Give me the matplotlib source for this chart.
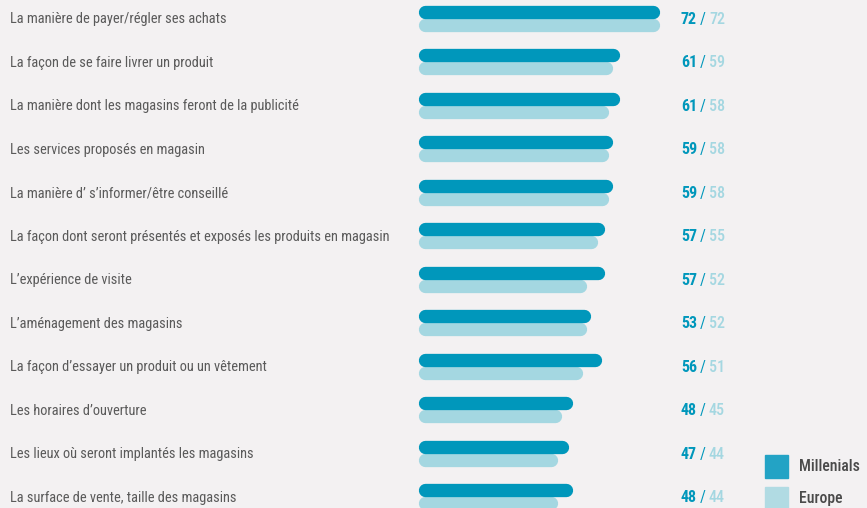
import matplotlib
matplotlib.use("Agg")
import matplotlib.pyplot as plt
from matplotlib import font_manager
from matplotlib.patches import Rectangle

labels = [
    "La manière de payer/régler ses achats",
    "La façon de se faire livrer un produit",
    "La manière dont les magasins feront de la publicité",
    "Les services proposés en magasin",
    "La manière d\u2019 s\u2019informer/être conseillé",
    "La façon dont seront présentés et exposés les produits en magasin",
    "L\u2019expérience de visite",
    "L\u2019aménagement des magasins",
    "La façon d\u2019essayer un produit ou un vêtement",
    "Les horaires d\u2019ouverture",
    "Les lieux où seront implantés les magasins",
    "La surface de vente, taille des magasins",
]
millenials = [72, 61, 61, 59, 59, 57, 57, 53, 56, 48, 47, 48]
europe = [72, 59, 58, 58, 58, 55, 52, 52, 51, 45, 44, 44]
series_names = ["Millenials", "Europe"]

BG = "#f3f1f2"
DARK = "#0097bb"
LIGHT = "#a4d7e1"
TXT = "#5a5a5a"

# pick a condensed font if one is installed
avail = {f.name for f in font_manager.fontManager.ttflist}
fam = "DejaVu Sans"
for cand in ["Liberation Sans Narrow", "Roboto Condensed", "DejaVu Sans Condensed", "Open Sans Condensed"]:
    if cand in avail:
        fam = cand
        break
plt.rcParams["font.family"] = [fam, "DejaVu Sans"]

W, H = 867, 508
fig = plt.figure(figsize=(W / 100, H / 100), dpi=100, facecolor=BG)
ax = fig.add_axes([0, 0, 1, 1])
ax.set_facecolor(BG)

# pixel mapping: x_px = 398 + 3.63 * value, row i centre at 18.3 + 43.5 * i
sx, x0 = 3.63, 398
ax.set_xlim(-x0 / sx, (W - x0) / sx)
ax.set_ylim((H - 18.3) / 43.5, -18.3 / 43.5)
ax.axis("off")

lw_px = 13.3
lw = lw_px * 72 / 100
r = lw_px / 2 / sx
start = (418 - x0) / sx
off = 6.6 / 43.5

for i, (m, e) in enumerate(zip(millenials, europe)):
    ax.plot([start + r, e - r], [i + off, i + off], color=LIGHT, lw=lw,
            solid_capstyle="round", zorder=2)
    ax.plot([start + r, m - r], [i - off, i - off], color=DARK, lw=lw,
            solid_capstyle="round", zorder=3)
    ax.text((10 - x0) / sx, i + 0.02, labels[i], color=TXT, fontsize=10.4,
            va="center", ha="left")
    t1 = ax.text((681 - x0) / sx, i + 0.02, str(m), color=DARK, fontsize=11.5,
                 fontweight="bold", va="center", ha="left")
    t2 = ax.annotate("\u2009/\u2009", xy=(1, 0), xycoords=t1, va="bottom", ha="left",
                     color=DARK, fontsize=11.5)
    ax.annotate(str(e), xy=(1, 0), xycoords=t2, va="bottom", ha="left",
                color=LIGHT, fontsize=11.5, fontweight="medium")

# legend
for k, (name, col) in enumerate(zip(series_names, ["#23a3c5", "#b1dbe3"])):
    top = 455 + 32 * k
    fig.add_artist(Rectangle((765 / W, 1 - (top + 23) / H), 23 / W, 23 / H,
                             transform=fig.transFigure, color=col))
    fig.text(799 / W, 1 - (top + 11.5) / H, name, color="#4a4a4a",
             fontsize=11.3, va="center", ha="left", fontweight="medium")

fig.savefig("out.png", dpi=100, facecolor=BG)
